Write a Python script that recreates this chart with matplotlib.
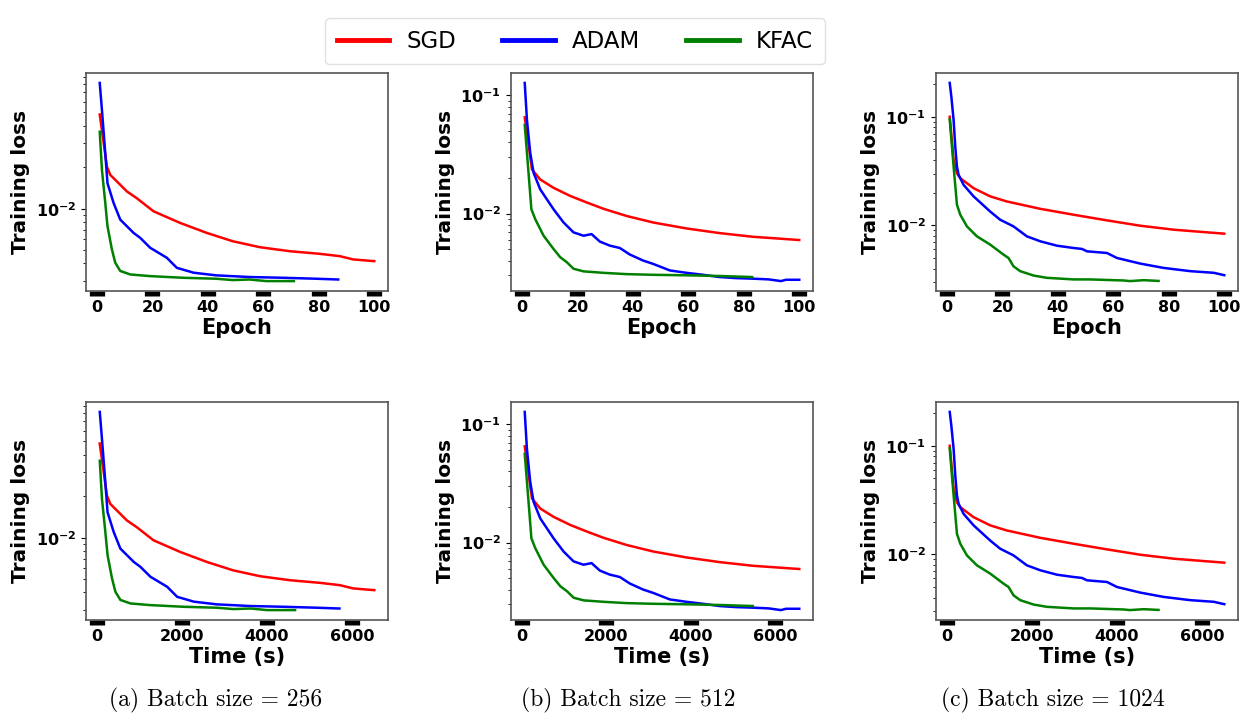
#!/usr/bin/env python3
"""Training loss vs epoch / wall time for SGD, ADAM and KFAC at three batch sizes."""
import matplotlib

matplotlib.use("Agg")
import matplotlib.pyplot as plt
from matplotlib.ticker import FuncFormatter, NullFormatter
import numpy as np

METHODS = ["SGD", "ADAM", "KFAC"]
COLOR = {"SGD": "red", "ADAM": "blue", "KFAC": "green"}
CAPTIONS = ["(a) Batch size = 256", "(b) Batch size = 512", "(c) Batch size = 1024"]

# ---- batch size 256 ----
sgd_256_epoch = [1, 3.6, 4.8, 10.8, 14.4, 20.4, 30, 39.6, 49, 58.8, 69.6, 80.4, 87.6, 92.4, 100]
sgd_256_time = [65, 235, 313, 705, 940, 1332, 1959, 2586, 3200, 3840, 4545, 5250, 5720, 6034, 6530]
sgd_256_loss = [0.0483, 0.0202, 0.0176, 0.01334, 0.0119, 0.00957, 0.00788, 0.00667, 0.0058,
                0.00525, 0.00491, 0.0047, 0.00452, 0.00428, 0.00416]

adam_256_epoch = [1, 1.8, 3, 3.8, 6, 8.4, 13.2, 15.6, 19.2, 25.2, 28.8, 34.8, 43, 55, 67, 79, 87]
adam_256_time = [66, 118, 197, 249, 394, 551, 866, 1023, 1260, 1653, 1889, 2283, 2821, 3608,
                 4395, 5182, 5710]
adam_256_loss = [0.0819, 0.052, 0.0252, 0.0153, 0.011, 0.00833, 0.00667, 0.00614, 0.0052,
                 0.0044, 0.00372, 0.00343, 0.00328, 0.00319, 0.00315, 0.0031, 0.00306]

kfac_256_epoch = [1, 1.8, 3, 3.8, 5.4, 6.6, 8.4, 12, 19, 31, 43, 49, 55, 61, 71]
kfac_256_time = [66, 118, 197, 250, 355, 434, 552, 788, 1248, 2037, 2825, 3219, 3614, 4008, 4665]
kfac_256_loss = [0.0362, 0.0191, 0.011, 0.00745, 0.00505, 0.00405, 0.00353, 0.00333, 0.00324,
                 0.00315, 0.0031, 0.00303, 0.00306, 0.00298, 0.00298]

# ---- batch size 512 ----
sgd_512_epoch = [1, 3.6, 6.6, 11.4, 17.4, 23.4, 29.3, 37.7, 47.3, 59.3, 71.3, 83.2, 100]
sgd_512_time = [66, 237, 434, 749, 1143, 1537, 1925, 2477, 3108, 3896, 4684, 5466, 6570]
sgd_512_loss = [0.065, 0.0236, 0.0194, 0.0165, 0.0141, 0.0124, 0.011, 0.00955, 0.00841,
                0.00749, 0.00684, 0.00637, 0.00598]

adam_512_epoch = [1, 1.8, 3, 4.2, 6.6, 11.4, 15, 18.6, 22.2, 25.1, 28.1, 31.7, 35.3, 38.9, 43.7,
                  47.3, 53.3, 59.3, 65.3, 71.3, 77.2, 83.2, 89, 93.4, 95.2, 100]
adam_512_time = [66, 118, 197, 276, 434, 749, 986, 1222, 1459, 1649, 1846, 2083, 2319, 2556,
                 2871, 3108, 3502, 3896, 4290, 4684, 5072, 5466, 5847, 6136, 6255, 6570]
adam_512_loss = [0.127, 0.0617, 0.0324, 0.0221, 0.016, 0.01087, 0.00841, 0.00694, 0.0065,
                 0.00671, 0.0058, 0.00536, 0.00512, 0.00451, 0.00401, 0.00376, 0.00331, 0.00316,
                 0.00304, 0.00291, 0.00285, 0.00282, 0.00278, 0.00269, 0.00276, 0.00276]

kfac_512_epoch = [1, 2, 3.4, 4.8, 7.8, 11.4, 13.8, 16.2, 18.6, 22.2, 29.3, 37.7, 47.3, 59.3,
                  71.3, 83]
kfac_512_time = [66, 132, 224, 316, 514, 751, 909, 1068, 1226, 1463, 1931, 2484, 3117, 3908,
                 4699, 5470]
kfac_512_loss = [0.0561, 0.0285, 0.01087, 0.00897, 0.0065, 0.00502, 0.00428, 0.00388, 0.00342,
                 0.00325, 0.00316, 0.00308, 0.00304, 0.00301, 0.00297, 0.00291]

# ---- batch size 1024 ----
sgd_1024_epoch = [1, 2.4, 3.6, 4.8, 9.6, 15.6, 21.6, 33.7, 45.7, 57.7, 69.7, 81.7, 93.8, 100]
sgd_1024_time = [65, 157, 235, 313, 627, 1019, 1410, 2201, 2984, 3768, 4551, 5335, 6125, 6530]
sgd_1024_loss = [0.1, 0.04, 0.0302, 0.0272, 0.022, 0.0185, 0.0166, 0.0142, 0.01253, 0.01112,
                 0.00993, 0.00913, 0.00863, 0.00839]

adam_1024_epoch = [1, 1.6, 2.4, 3, 3.6, 4.2, 6, 9.6, 15.6, 19.2, 24, 28.8, 33.7, 39.7, 45.7,
                   48.7, 50.5, 57.7, 61.3, 69.7, 78.1, 87.7, 96.2, 100]
adam_1024_time = [65, 104, 157, 196, 235, 274, 392, 627, 1019, 1254, 1567, 1881, 2201, 2592,
                  2984, 3180, 3298, 3768, 4003, 4551, 5100, 5727, 6282, 6530]
adam_1024_loss = [0.205, 0.152, 0.093, 0.0531, 0.0348, 0.0292, 0.0236, 0.0185, 0.0134, 0.01127,
                  0.00979, 0.00793, 0.00713, 0.0065, 0.00619, 0.00607, 0.00577, 0.00557, 0.00501,
                  0.00445, 0.00406, 0.00379, 0.00366, 0.00348]

kfac_1024_epoch = [1, 2.4, 3.6, 4.8, 7.2, 10.8, 15.6, 20.4, 22.2, 24, 26.4, 31.3, 36, 45.7,
                   51.7, 63.7, 66, 71, 76.3]
kfac_1024_time = [65, 157, 235, 313, 470, 705, 1019, 1332, 1450, 1567, 1724, 2044, 2351, 2984,
                  3376, 4160, 4310, 4636, 4982]
kfac_1024_loss = [0.0946, 0.0348, 0.0155, 0.01254, 0.00979, 0.00793, 0.00665, 0.00538, 0.00501,
                  0.0042, 0.00379, 0.00345, 0.00329, 0.00318, 0.00318, 0.00311, 0.00307, 0.00313,
                  0.00308]

PANELS = [
    {"SGD": (sgd_256_epoch, sgd_256_time, sgd_256_loss),
     "ADAM": (adam_256_epoch, adam_256_time, adam_256_loss),
     "KFAC": (kfac_256_epoch, kfac_256_time, kfac_256_loss)},
    {"SGD": (sgd_512_epoch, sgd_512_time, sgd_512_loss),
     "ADAM": (adam_512_epoch, adam_512_time, adam_512_loss),
     "KFAC": (kfac_512_epoch, kfac_512_time, kfac_512_loss)},
    {"SGD": (sgd_1024_epoch, sgd_1024_time, sgd_1024_loss),
     "ADAM": (adam_1024_epoch, adam_1024_time, adam_1024_loss),
     "KFAC": (kfac_1024_epoch, kfac_1024_time, kfac_1024_loss)},
]

W, H = 1257, 720
COL_LEFT = [86, 511, 936]
ROW_TOP = [73, 402]
AX_W, AX_H = 302, 218
CAP_X = [216, 628, 1053]


def sci(v, _pos):
    if v <= 0:
        return ""
    e = int(round(np.log10(v)))
    return r"$\mathbf{10^{%d}}$" % e


def style(ax, xlabel):
    ax.set_yscale("log")
    ax.yaxis.set_major_formatter(FuncFormatter(sci))
    ax.yaxis.set_minor_formatter(NullFormatter())
    ax.tick_params(axis="x", which="major", length=3.5, width=11, labelsize=11.5, pad=3)
    ax.tick_params(axis="y", which="major", length=3.5, width=0.8, labelsize=11.5)
    ax.tick_params(axis="y", which="minor", length=2, width=0.6)
    for lab in ax.get_xticklabels():
        lab.set_fontweight("bold")
    for sp in ax.spines.values():
        sp.set_color("#555555")
        sp.set_linewidth(1.2)
    ax.set_xlabel(xlabel, fontsize=15, fontweight="bold", labelpad=2)
    ax.set_ylabel("Training loss", fontsize=14.5, fontweight="bold", labelpad=4)


def main():
    fig = plt.figure(figsize=(W / 100, H / 100), dpi=100)
    handles = []
    for c, panel in enumerate(PANELS):
        for r in range(2):
            rect = [COL_LEFT[c] / W, 1 - (ROW_TOP[r] + AX_H) / H, AX_W / W, AX_H / H]
            ax = fig.add_axes(rect)
            for m in METHODS:
                ep, tm, loss = panel[m]
                x = ep if r == 0 else tm
                ln, = ax.plot(x, loss, color=COLOR[m], lw=1.8, label=m)
                if c == 0 and r == 0:
                    handles.append(ln)
            if r == 0:
                ax.set_xticks([0, 20, 40, 60, 80, 100])
            else:
                ax.set_xticks([0, 2000, 4000, 6000])
            style(ax, "Epoch" if r == 0 else "Time (s)")
        fig.text(CAP_X[c] / W, 1 - 700 / H, CAPTIONS[c], ha="center", va="center",
                 fontsize=17, family="cmr10")

    fig.legend(handles, METHODS, loc="upper center", ncol=3,
               bbox_to_anchor=(575 / W, 1 - 7 / H), fontsize=16.5,
               handlelength=2.3, handletextpad=0.75, columnspacing=2.0,
               borderpad=0.5, frameon=True, fancybox=True, edgecolor="0.85")
    for ln in fig.legends[0].get_lines():
        ln.set_linewidth(3.5)

    fig.savefig("out.png", dpi=100)
    plt.close(fig)


if __name__ == "__main__":
    main()
